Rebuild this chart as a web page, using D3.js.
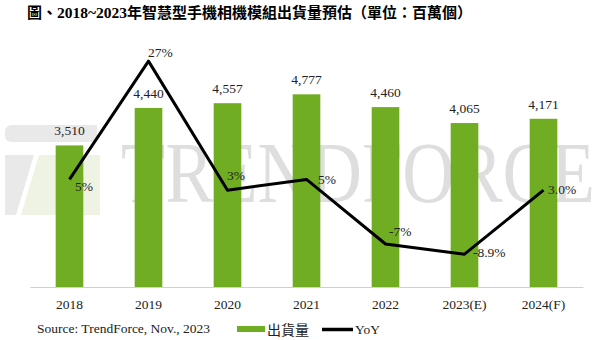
<!DOCTYPE html>
<html>
<head>
<meta charset="utf-8">
<script src="https://cdn.jsdelivr.net/npm/d3@7"></script>
<style>
  html, body { margin: 0; padding: 0; background: #fff; }
  svg { display: block; }
</style>
</head>
<body>
<svg id="chart" width="600" height="340"></svg>
<script>
// ---- data ----
const categories = ["2018", "2019", "2020", "2021", "2022", "2023(E)", "2024(F)"];
const shipments = [3510, 4440, 4557, 4777, 4460, 4065, 4171];
const yoy = [5, 27, 3, 5, -7, -8.9, 3.0];
const yoyLabels = ["5%", "27%", "3%", "5%", "-7%", "-8.9%", "3.0%"];
const titleParts = ["圖、", "2018~2023", "年智慧型手機相機模組出貨量預估（單位：百萬個）"];
const sourceText = "Source: TrendForce, Nov., 2023";
const legendNames = ["出貨量", "YoY"];

// ---- layout ----
const W = 600, H = 340;
const plot = { left: 30, right: 583, top: 45, bottom: 287 };
const yoyLabelOffset = [[5.5, 11.5], [-0.5, -4], [-0.5, -10], [11.5, 5], [3.5, -8], [8.5, 3], [4.5, 4]];
const serif = "'Liberation Serif', 'Times New Roman', serif";
const cjk = "'Noto Sans CJK TC', 'Noto Sans CJK SC', sans-serif";
const green = "#70ad22";

const svg = d3.select("#chart");
svg.append("rect").attr("width", W).attr("height", H).attr("fill", "#fff");

const x = d3.scaleBand().domain(categories).range([plot.left, plot.right]).padding(0);
const y1 = d3.scaleLinear().domain([0, 6000]).range([plot.bottom, plot.top]);
const y2 = d3.scaleLinear().domain([-15, 30]).range([plot.bottom, plot.top]);
const barW = x.bandwidth() * 0.35;
const cx = c => x(c) + x.bandwidth() / 2;

// ---- watermark (logo + TRENDFORCE) ----
const wm = svg.append("g");
wm.append("path")
  .attr("d", "M12,125 H97 V142 H12 Q5,142 5,135 V132 Q5,125 12,125 Z")
  .attr("fill", "#e9e9e9");
wm.append("path")
  .attr("d", "M5,155 H34 L16,215 H5 Z")
  .attr("fill", "#e9e9e9");
wm.append("path")
  .attr("d", "M39,155 H100 V215 H21 Z")
  .attr("fill", "#eef3e4");
wm.append("text")
  .attr("x", 121).attr("y", 202)
  .attr("font-family", serif)
  .attr("font-size", 86)
  .attr("fill", "#dedede")
  .attr("textLength", 474)
  .attr("lengthAdjust", "spacingAndGlyphs")
  .text("TRENDFORCE");

// ---- title ----
const title = svg.append("text")
  .attr("x", 27).attr("y", 18)
  .attr("font-weight", 700)
  .attr("font-size", 15)
  .attr("fill", "#000");
title.append("tspan").attr("font-family", cjk).text(titleParts[0]);
title.append("tspan").attr("font-family", serif).attr("font-size", 15.5).text(titleParts[1]);
title.append("tspan").attr("font-family", cjk).text(titleParts[2]);

// ---- bars ----
svg.append("g").selectAll("rect")
  .data(categories)
  .join("rect")
  .attr("x", (c) => cx(c) - barW / 2)
  .attr("y", (c, i) => y1(shipments[i]))
  .attr("width", barW)
  .attr("height", (c, i) => y1(0) - y1(shipments[i]))
  .attr("fill", green);

// ---- x axis ----
const xAxis = svg.append("g")
  .attr("transform", `translate(0,${plot.bottom})`)
  .call(d3.axisBottom(x).tickSize(0).tickPadding(12));
xAxis.select(".domain").attr("stroke", "#d0d0d0").attr("stroke-width", 1);
xAxis.selectAll("text")
  .attr("font-family", serif)
  .attr("font-size", 13.5)
  .attr("fill", "#222");

// ---- bar value labels ----
const fmt = d3.format(",");
svg.append("g").selectAll("text")
  .data(categories)
  .join("text")
  .attr("x", (c) => cx(c))
  .attr("y", (c, i) => y1(shipments[i]) - 10)
  .attr("text-anchor", "middle")
  .attr("font-family", serif)
  .attr("font-size", 13.5)
  .attr("fill", "#222")
  .text((c, i) => fmt(shipments[i]));

// ---- YoY line ----
const line = d3.line()
  .x((d, i) => cx(categories[i]))
  .y((d) => y2(d));
svg.append("path")
  .datum(yoy)
  .attr("d", line)
  .attr("fill", "none")
  .attr("stroke", "#000")
  .attr("stroke-width", 3)
  .attr("stroke-linejoin", "round");

svg.append("g").selectAll("text")
  .data(yoy)
  .join("text")
  .attr("x", (d, i) => cx(categories[i]) + yoyLabelOffset[i][0])
  .attr("y", (d, i) => y2(d) + yoyLabelOffset[i][1])
  .attr("font-family", serif)
  .attr("font-size", 13.5)
  .attr("fill", "#222")
  .text((d, i) => yoyLabels[i]);

// ---- source & legend ----
svg.append("text")
  .attr("x", 37).attr("y", 333)
  .attr("font-family", serif)
  .attr("font-size", 13.5)
  .attr("fill", "#222")
  .text(sourceText);

const lg = svg.append("g");
lg.append("rect").attr("x", 237).attr("y", 326).attr("width", 28).attr("height", 6).attr("fill", green);
lg.append("text").attr("x", 267).attr("y", 334.5)
  .attr("font-family", cjk).attr("font-size", 14).attr("fill", "#222")
  .text(legendNames[0]);
lg.append("line").attr("x1", 322).attr("x2", 353).attr("y1", 329.5).attr("y2", 329.5)
  .attr("stroke", "#000").attr("stroke-width", 3.5);
lg.append("text").attr("x", 355).attr("y", 334)
  .attr("font-family", serif).attr("font-size", 13.5).attr("fill", "#222")
  .text(legendNames[1]);
</script>
</body>
</html>
